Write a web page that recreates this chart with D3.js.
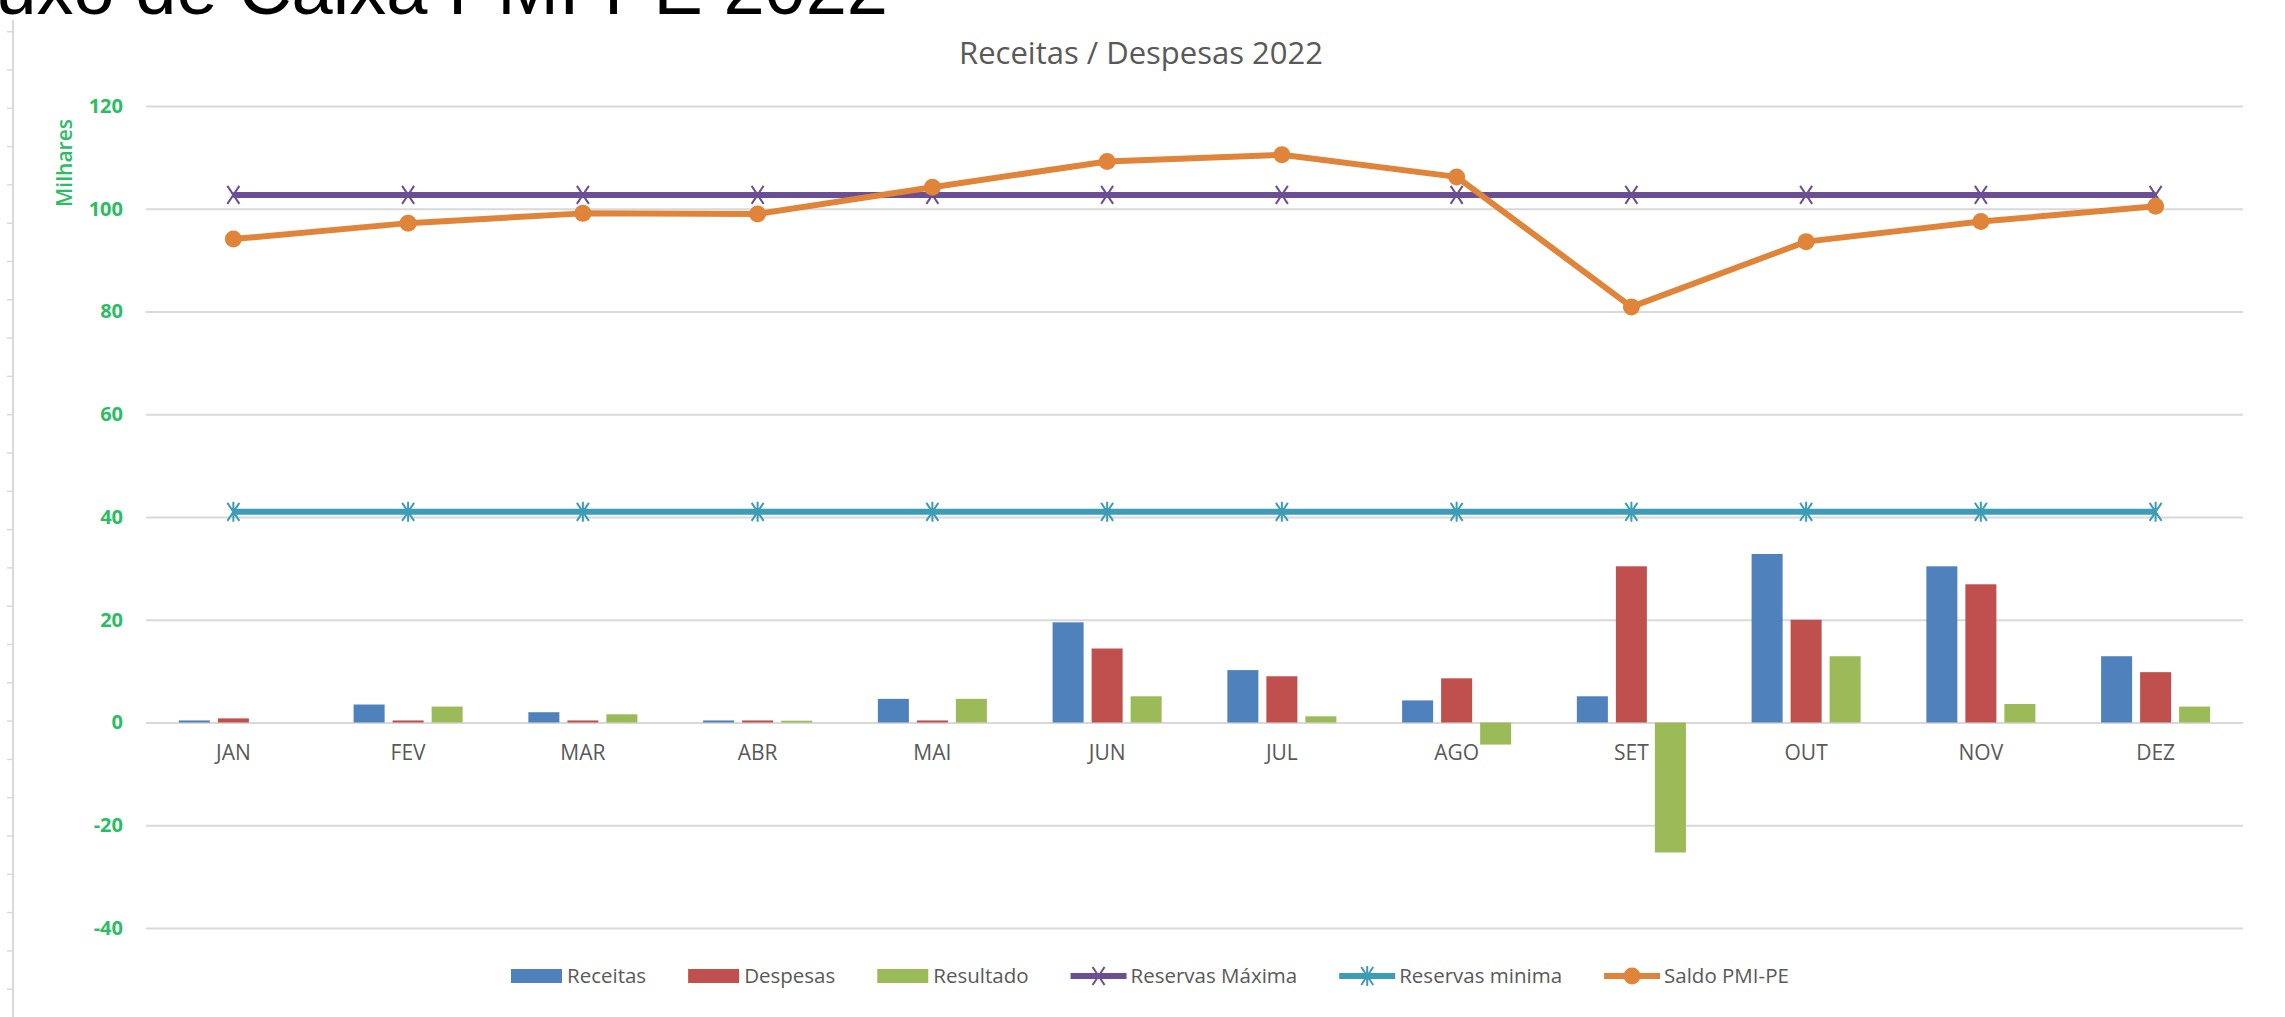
<!DOCTYPE html>
<html>
<head>
<meta charset="utf-8">
<script src="https://cdn.jsdelivr.net/npm/d3@7"></script>
<style>
	body { margin:0; background:#fff; }
	text { font-family:"Open Sans", "Noto Sans", sans-serif; }
</style>
</head>
<body>
<script>

const months = ['JAN', 'FEV', 'MAR', 'ABR', 'MAI', 'JUN', 'JUL', 'AGO', 'SET', 'OUT', 'NOV', 'DEZ'];

const receitas  = [0.4, 3.5, 2.0, 0.4, 4.6, 19.5, 10.2, 4.3, 5.1, 32.8, 30.4, 12.9];
const despesas  = [0.8, 0.4, 0.4, 0.4, 0.4, 14.4, 9.0, 8.6, 30.4, 20.0, 26.9, 9.8];
const resultado = [0, 3.1, 1.6, 0.35, 4.6, 5.1, 1.2, -4.3, -25.3, 12.9, 3.6, 3.1];

const reservasMaxima = [102.7, 102.7, 102.7, 102.7, 102.7, 102.7, 102.7, 102.7, 102.7, 102.7, 102.7, 102.7];
const reservasMinima = [41, 41, 41, 41, 41, 41, 41, 41, 41, 41, 41, 41];
const saldo = [94.1, 97.2, 99.1, 99.0, 104.2, 109.2, 110.5, 106.2, 80.9, 93.6, 97.5, 100.5];

const yTicks = [-40, -20, 0, 20, 40, 60, 80, 100, 120];

const width = 2285;
const height = 1017;

const green = '#2bbd63';
const grey = '#595959';

const svg = d3.select('body')
.append('svg')
.attr('width', width)
.attr('height', height);

// page title, cut off at the top of the screenshot
svg.append('text')
.attr('x', 888)
.attr('y', 14)
.attr('text-anchor', 'end')
.style('font-family', '"Liberation Sans", Arial, sans-serif')
.style('font-size', '74px')
.style('fill', '#000')
.text('Fluxo de Caixa PMI-PE 2022');

// ruler on the left edge
const ruler = svg.append('g');

ruler.append('line')
.attr('x1', 13).attr('x2', 13)
.attr('y1', 20).attr('y2', height)
.attr('stroke', '#d9d9d9')
.attr('stroke-width', 2);

ruler.selectAll('.rtick')
.data(d3.range(31.7, height, 38.3))
.enter()
.append('line')
.attr('x1', 7).attr('x2', 13)
.attr('y1', d => d).attr('y2', d => d)
.attr('stroke', '#d9d9d9')
.attr('stroke-width', 1.5);

const xScale = d3.scaleBand()
.domain(months)
.range([146, 2243]);

const groupW = xScale.bandwidth() * 0.624;

const xInner = d3.scaleBand()
.domain(['receitas', 'despesas', 'resultado'])
.range([(xScale.bandwidth() - groupW) / 2, (xScale.bandwidth() + groupW) / 2])
.paddingInner(0.205);

const yScale = d3.scaleLinear()
.domain([-40, 120])
.range([928, 106]);

// gridlines
const grid = svg.append('g')
.attr('transform', 'translate(146,0)')
.call(
	d3.axisLeft(yScale)
	.tickValues(yTicks)
	.tickSize(-(2243 - 146))
	.tickFormat('')
	);

grid.select('.domain').remove();
grid.selectAll('line').attr('stroke', '#d9d9d9').attr('stroke-width', 2);

// y labels
const yAxis = svg.append('g')
.attr('transform', 'translate(123,0)')
.call(
	d3.axisLeft(yScale)
	.tickValues(yTicks)
	.tickSize(0)
	.tickPadding(0)
	.tickFormat(d => String(d))
	);

yAxis.select('.domain').remove();
yAxis.selectAll('text')
.style('font-size', '20px')
.style('font-weight', 'bold')
.style('fill', green);

svg.append('text')
.attr('transform', 'translate(72,163) rotate(-90)')
.attr('text-anchor', 'middle')
.style('font-size', '21px')
.style('font-weight', '600')
.style('fill', green)
.text('Milhares');

// chart title
svg.append('text')
.attr('x', 1141)
.attr('y', 64)
.attr('text-anchor', 'middle')
.style('font-size', '31px')
.style('fill', grey)
.text('Receitas / Despesas 2022');

// month labels
const xAxis = svg.append('g')
.attr('transform', `translate(0,${yScale(0)})`)
.call(
	d3.axisBottom(xScale)
	.tickSize(0)
	.tickPadding(23)
	);

xAxis.select('.domain').remove();
xAxis.selectAll('text')
.style('font-size', '21px')
.style('fill', grey);

// bars
const series = [
	{key:'receitas', name:'Receitas', values:receitas, color:'#4f81bd'},
	{key:'despesas', name:'Despesas', values:despesas, color:'#c0504d'},
	{key:'resultado', name:'Resultado', values:resultado, color:'#9bbb59'}
];

const bars = svg.append('g');

series.forEach(s => {

	bars.selectAll('.bar-' + s.key)
	.data(s.values)
	.enter()
	.append('rect')
	.attr('class', 'bar-' + s.key)
	.attr('x', (d,i) => xScale(months[i]) + xInner(s.key))
	.attr('width', xInner.bandwidth())
	.attr('y', d => yScale(Math.max(0, d)))
	.attr('height', d => Math.abs(yScale(d) - yScale(0)))
	.style('fill', s.color);

})

// lines
const lineSeries = [
	{name:'Reservas Máxima', values:reservasMaxima, color:'#6b4f94', marker:'x'},
	{name:'Reservas minima', values:reservasMinima, color:'#3d9cb6', marker:'star'},
	{name:'Saldo PMI-PE', values:saldo, color:'#e0843a', marker:'circle'}
];

const line = d3.line()
.x((d,i) => xScale(months[i]) + xScale.bandwidth() / 2)
.y(d => yScale(d));

const markerPath = {
	x:'M-6,-9L6,9M-6,9L6,-9',
	star:'M-6,-9L6,9M-6,9L6,-9M0,-10L0,10'
};

const drawMarker = (g, type, color) => {
	if(type == 'circle')
	{
		g.append('circle')
		.attr('r', 8.5)
		.style('fill', color);
	}
	else
	{
		g.append('path')
		.attr('d', markerPath[type])
		.attr('stroke', color)
		.attr('stroke-width', 2)
		.attr('fill', 'none');
	}
}

const lines = svg.append('g');

lineSeries.forEach(s => {

	lines.append('path')
	.attr('d', line(s.values))
	.attr('fill', 'none')
	.attr('stroke', s.color)
	.attr('stroke-width', 6)
	.attr('stroke-linejoin', 'round');

	s.values.forEach((v,i) => {
		const g = lines.append('g')
		.attr('transform', `translate(${xScale(months[i]) + xScale.bandwidth() / 2},${yScale(v)})`);
		drawMarker(g, s.marker, s.color);
	})

})

// legend
const legend = svg.append('g');
let lx = 511;
const ly = 976;

series.forEach(s => {

	legend.append('rect')
	.attr('x', lx)
	.attr('y', ly - 7)
	.attr('width', 51)
	.attr('height', 14)
	.style('fill', s.color);

	const t = legend.append('text')
	.attr('x', lx + 56)
	.attr('y', ly)
	.attr('dy', '0.35em')
	.style('font-size', '20.5px')
	.style('fill', grey)
	.text(s.name);

	lx += 56 + t.node().getComputedTextLength() + 42;
})

lineSeries.forEach(s => {

	legend.append('line')
	.attr('x1', lx).attr('x2', lx + 56)
	.attr('y1', ly).attr('y2', ly)
	.attr('stroke', s.color)
	.attr('stroke-width', 6);

	const g = legend.append('g')
	.attr('transform', `translate(${lx + 28},${ly})`);
	drawMarker(g, s.marker, s.color);

	const t = legend.append('text')
	.attr('x', lx + 60)
	.attr('y', ly)
	.attr('dy', '0.35em')
	.style('font-size', '20.5px')
	.style('fill', grey)
	.text(s.name);

	lx += 60 + t.node().getComputedTextLength() + 42;
})

</script>
</body>
</html>
